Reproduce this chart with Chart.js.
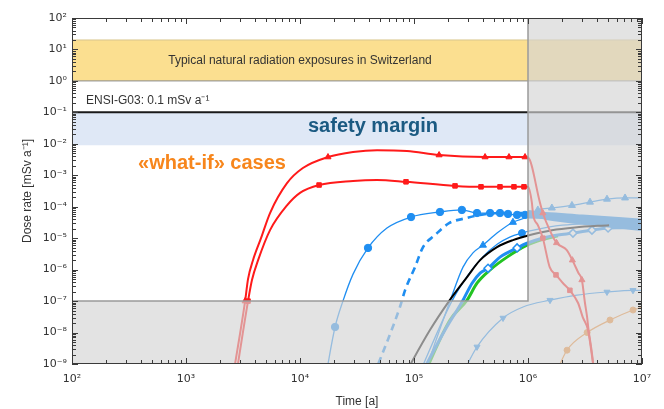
<!DOCTYPE html>
<html>
<head>
<meta charset="utf-8">
<script src="https://cdn.jsdelivr.net/npm/chart.js@4.4.0/dist/chart.umd.min.js"></script>
<style>
  html, body { margin: 0; padding: 0; background: #fff; }
  #wrap { width: 664px; height: 409px; }
</style>
</head>
<body>
<div id="wrap"><canvas id="doseChart"></canvas></div>
<script>
// Axis ranges and labelled decades
const timeRange = [1e2, 1e7];
const doseRange = [1e-9, 1e2];
const timeDecades = [1e2, 1e3, 1e4, 1e5, 1e6, 1e7];
const doseDecades = [1e-9, 1e-8, 1e-7, 1e-6, 1e-5, 1e-4, 1e-3, 1e-2, 1e-1, 1e0, 1e1, 1e2];

// Reference levels
const naturalBand = [1, 20];
const marginBand = [0.009, 0.1];
const ensiLimit = 0.1;
const cutoffTime = 1e6;
const cutoffDose = 1e-7;

// "what-if" cases (red)
const redTriT = [2610, 3300, 3500, 3870, 4550, 5460, 7690, 10600, 17600, 29200, 47400, 86800, 166000, 420000, 681000, 942000, 1000000,
  1270000, 1350000, 1550000, 1780000, 2190000, 2450000, 2770000, 2970000, 3160000, 3300000, 3380000, 3670000, 3800000];
const redTriD = [5e-10, 1e-7, 5e-7, 2.0e-6, 1e-5, 6.3e-5, 5.6e-4, 1.7e-3, 3.8e-3, 5.5e-3, 6.3e-3, 5.9e-3, 4.4e-3, 3.8e-3, 3.8e-3, 3.8e-3, 3.7e-3,
  1.4e-4, 6.3e-5, 1.8e-5, 7.1e-6, 4.2e-6, 2.0e-6, 7.8e-7, 4.7e-7, 8.7e-8, 3.1e-8, 1.4e-8, 1.7e-9, 4.5e-10];
const redSqT = [2770, 3500, 3790, 4290, 5460, 7690, 10000, 14700, 29200, 47400, 85100, 229000, 387000, 568000, 753000, 922000, 1000000,
  1080000, 1110000, 1220000, 1350000, 1550000, 1760000, 2030000, 2330000, 2750000, 3020000, 3360000, 3720000, 3870000];
const redSqD = [5e-10, 1e-7, 4.7e-7, 2.0e-6, 1.8e-5, 1.1e-4, 2.75e-4, 4.9e-4, 6.6e-4, 7.1e-4, 6.2e-4, 4.6e-4, 4.3e-4, 4.3e-4, 4.3e-4, 4.3e-4, 4.3e-4,
  1.4e-4, 5.5e-5, 2.6e-5, 1e-5, 1.2e-6, 6.8e-7, 3.7e-7, 2.2e-7, 8.7e-8, 3.1e-8, 1.2e-8, 1.07e-9, 4.5e-10];

// Blue cases
const bluCircT = [16900, 20300, 23800, 29200, 39500, 57900, 94200, 169000, 263000, 357000, 465000, 568000, 668000, 802000, 942000, 1000000, 3000000, 10000000];
const bluCircD = [4.5e-10, 1.5e-8, 1e-7, 7.2e-7, 4.9e-6, 2.1e-5, 4.7e-5, 6.8e-5, 7.9e-5, 6.3e-5, 6.3e-5, 6.3e-5, 5.9e-5, 5.5e-5, 5.5e-5, 5.5e-5, 4.4e-5, 3.2e-5];
const bluDashT = [44600, 75300, 83400, 102000, 120000, 153000, 203000, 292000, 380000, 568000, 1000000, 1500000, 4000000, 10000000];
const bluDashD = [4.5e-10, 6.5e-8, 2.2e-7, 1.2e-6, 5.2e-6, 1.26e-5, 3.0e-5, 4.4e-5, 5.5e-5, 6.3e-5, 6.3e-5, 4.6e-5, 3.0e-5, 2.1e-5];
const bluTriT = [122000, 207000, 269000, 329000, 403000, 535000, 738000, 980000, 1220000, 1620000, 2430000, 3500000, 4930000, 7100000, 10000000];
const bluTriD = [4.5e-10, 1e-7, 1.2e-6, 3.4e-6, 6.0e-6, 1.45e-5, 3.2e-5, 4.7e-5, 7.9e-5, 9.1e-5, 1.1e-4, 1.4e-4, 1.74e-4, 1.9e-4, 1.9e-4];
const bluCirc2T = [110000, 215000, 300000, 400000, 540000, 700000, 885000, 1040000, 2000000, 10000000];
const bluCirc2D = [4.5e-10, 1e-7, 7e-7, 2.5e-6, 6.5e-6, 1.1e-5, 1.45e-5, 1.7e-5, 2.6e-5, 3.2e-5];
const bluThickT = [115000, 187000, 269000, 323000, 380000, 446000, 568000, 802000, 980000, 1330000, 1830000, 2480000, 3640000, 5040000, 7100000, 10000000];
const bluThickD = [4.5e-10, 1.2e-8, 1.07e-7, 3.7e-7, 7.8e-7, 1.1e-6, 2.5e-6, 4.9e-6, 6.9e-6, 1e-5, 1.26e-5, 1.45e-5, 1.8e-5, 2.1e-5, 2.2e-5, 2.6e-5];
const bluLowT = [264000, 357000, 604000, 904000, 1560000, 2690000, 4930000, 8340000, 10000000];
const bluLowD = [4.5e-10, 3.5e-9, 2.9e-8, 6.5e-8, 1.07e-7, 1.55e-7, 1.95e-7, 2.2e-7, 2.2e-7];

// Reference case (black) and other cases
const blackT = [82600, 138000, 203000, 292000, 380000, 535000, 738000, 1040000, 1620000, 2580000, 5140000];
const blackD = [4.5e-10, 1.2e-8, 1e-7, 5.8e-7, 2.0e-6, 5.2e-6, 8.7e-6, 1.26e-5, 1.8e-5, 2.2e-5, 2.6e-5];
const greenT = [122000, 207000, 292000, 357000, 465000, 655000, 980000, 1330000, 1830000];
const greenD = [4.5e-10, 2.5e-8, 1.07e-7, 3.7e-7, 9.8e-7, 2.5e-6, 6.0e-6, 9e-6, 1.2e-5];
const orangeT = [1730000, 2200000, 3300000, 5240000, 8340000, 10000000];
const orangeD = [4.5e-10, 2.75e-9, 1.0e-8, 2.5e-8, 5.2e-8, 6.5e-8];

const RED = '#ff1a1a';
const BLUE = '#1f8ef1';

function pairs(ts, ds) {
  return ts.map((t, i) => ({ x: t, y: ds[i] }));
}

function sup(n) {
  const m = { '-': '\u207B', '0': '\u2070', '1': '\u00B9', '2': '\u00B2', '3': '\u00B3', '4': '\u2074',
    '5': '\u2075', '6': '\u2076', '7': '\u2077', '8': '\u2078', '9': '\u2079' };
  return String(n).split('').map(c => m[c]).join('');
}

function powLabel(v) {
  return '10' + sup(Math.round(Math.log10(v)));
}

// build a line dataset; markers only drawn at the listed indices
function curve(ts, ds, opts) {
  const marks = opts.markAt || [];
  return Object.assign({
    data: pairs(ts, ds),
    showLine: true,
    fill: false,
    cubicInterpolationMode: 'monotone',
    pointRadius: c => marks.includes(c.dataIndex) ? (opts.markSize || 3.5) : 0,
    pointBorderWidth: 1
  }, opts);
}

const wide = c => c.p0.parsed.x >= cutoffTime;

// Bands, limit line and annotations under the curves
const bandsPlugin = {
  id: 'bands',
  beforeDatasetsDraw(chart) {
    const { ctx, chartArea: a, scales: { x, y } } = chart;
    ctx.save();
    const nTop = y.getPixelForValue(naturalBand[1]);
    const nBot = y.getPixelForValue(naturalBand[0]);
    ctx.fillStyle = '#fbdf90';
    ctx.fillRect(a.left, nTop, a.width, nBot - nTop);
    ctx.strokeStyle = '#d9c68e';
    ctx.lineWidth = 1;
    ctx.beginPath(); ctx.moveTo(a.left, nTop); ctx.lineTo(a.right, nTop); ctx.stroke();
    ctx.strokeStyle = '#8a8a8a';
    ctx.beginPath(); ctx.moveTo(a.left, nBot); ctx.lineTo(a.right, nBot); ctx.stroke();

    const mTop = y.getPixelForValue(marginBand[1]);
    const mBot = y.getPixelForValue(marginBand[0]);
    ctx.fillStyle = '#dfe8f6';
    ctx.fillRect(a.left, mTop, a.width, mBot - mTop);

    const yl = y.getPixelForValue(ensiLimit);
    ctx.strokeStyle = '#1a1a1a';
    ctx.lineWidth = 2;
    ctx.beginPath(); ctx.moveTo(a.left, yl); ctx.lineTo(a.right, yl); ctx.stroke();

    ctx.textBaseline = 'middle';
    ctx.fillStyle = '#333';
    ctx.textAlign = 'center';
    ctx.font = '12px "Liberation Sans", Arial, sans-serif';
    ctx.fillText('Typical natural radiation exposures in Switzerland', x.getPixelForValue(1e4), (nTop + nBot) / 2);

    ctx.textAlign = 'left';
    ctx.fillText('ENSI-G03: 0.1 mSv a\u207B\u00B9', a.left + 14, yl - 12);

    ctx.textAlign = 'center';
    ctx.fillStyle = '#1b5a82';
    ctx.font = 'bold 20px "Liberation Sans", Arial, sans-serif';
    ctx.fillText('safety margin', 373, (mTop + mBot) / 2 - 2);

    ctx.fillStyle = '#f7861c';
    ctx.fillText('\u00ABwhat-if\u00BB cases', 212, 163);
    ctx.restore();
  }
};

// Grey veil over the region outside the assessment window
const veilPlugin = {
  id: 'veil',
  afterDatasetsDraw(chart) {
    const { ctx, chartArea: a, scales: { x, y } } = chart;
    const xc = x.getPixelForValue(cutoffTime);
    const yc = y.getPixelForValue(cutoffDose);
    ctx.save();
    ctx.fillStyle = 'rgba(212,212,212,0.66)';
    ctx.beginPath();
    ctx.moveTo(a.left, yc);
    ctx.lineTo(xc, yc);
    ctx.lineTo(xc, a.top);
    ctx.lineTo(a.right, a.top);
    ctx.lineTo(a.right, a.bottom);
    ctx.lineTo(a.left, a.bottom);
    ctx.closePath();
    ctx.fill();
    ctx.strokeStyle = '#9a9a9a';
    ctx.lineWidth = 1.5;
    ctx.beginPath();
    ctx.moveTo(a.left, yc);
    ctx.lineTo(xc, yc);
    ctx.lineTo(xc, a.top);
    ctx.stroke();
    ctx.restore();
  },
  afterDraw(chart) {
    // box with inward ticks on all four sides
    const { ctx, chartArea: a, scales: { x, y } } = chart;
    ctx.save();
    ctx.strokeStyle = '#3a3a3a';
    ctx.lineWidth = 1;
    ctx.strokeRect(a.left + 0.5, a.top + 0.5, a.width - 1, a.height - 1);
    ctx.beginPath();
    timeDecades.forEach((d, i) => {
      for (let k = 1; k < 10; k++) {
        if (k > 1 && i === timeDecades.length - 1) break;
        const px = Math.round(x.getPixelForValue(d * k)) + 0.5;
        const len = k === 1 ? 6 : 4;
        ctx.moveTo(px, a.bottom); ctx.lineTo(px, a.bottom - len);
        ctx.moveTo(px, a.top); ctx.lineTo(px, a.top + len);
      }
    });
    doseDecades.forEach((d, i) => {
      for (let k = 1; k < 10; k++) {
        if (k > 1 && i === doseDecades.length - 1) break;
        const py = Math.round(y.getPixelForValue(d * k)) + 0.5;
        const len = k === 1 ? 6 : 4;
        ctx.moveTo(a.left, py); ctx.lineTo(a.left + len, py);
        ctx.moveTo(a.right, py); ctx.lineTo(a.right - len, py);
      }
    });
    ctx.stroke();
    ctx.restore();
  }
};

const ctx = document.getElementById('doseChart');
const tickFont = { family: '"DejaVu Sans", sans-serif', size: 11 };
const titleFont = { family: '"Liberation Sans", Arial, sans-serif', size: 12 };

new Chart(ctx, {
  type: 'scatter',
  data: {
    datasets: [
      curve(redTriT, redTriD, { borderColor: RED, backgroundColor: RED, borderWidth: 2, pointStyle: 'triangle',
        markAt: [1, 8, 12, 13, 14, 15, 18, 20, 22, 24] }),
      curve(redSqT, redSqD, { borderColor: RED, backgroundColor: RED, borderWidth: 2, pointStyle: 'rect', markSize: 3.2,
        markAt: [1, 7, 10, 11, 12, 13, 14, 15, 20, 22, 24] }),
      curve(blackT, blackD, { borderColor: '#000', backgroundColor: '#000', borderWidth: 2 }),
      curve(bluCircT, bluCircD, { borderColor: BLUE, backgroundColor: BLUE, borderWidth: 1.3, pointStyle: 'circle', markSize: 3.7,
        markAt: [1, 4, 6, 7, 8, 9, 10, 11, 12, 13, 14],
        segment: { borderWidth: c => wide(c) ? 7 : undefined } }),
      curve(bluDashT, bluDashD, { borderColor: BLUE, borderWidth: 2.6, borderDash: [7, 5],
        segment: { borderWidth: c => wide(c) ? 6 : undefined, borderDash: c => wide(c) ? [] : undefined } }),
      curve(bluTriT, bluTriD, { borderColor: BLUE, backgroundColor: BLUE, borderWidth: 1.3, pointStyle: 'triangle', markSize: 4,
        markAt: [4, 6, 8, 9, 10, 11, 12, 13] }),
      curve(bluCirc2T, bluCirc2D, { borderColor: BLUE, backgroundColor: BLUE, borderWidth: 1.3, pointStyle: 'circle', markSize: 3.5,
        markAt: [6] }),
      curve(bluThickT, bluThickD, { borderColor: BLUE, backgroundColor: '#fff', borderWidth: 3, pointStyle: 'rectRot', markSize: 4,
        pointBorderColor: BLUE, pointBorderWidth: 1.5, markAt: [5, 7, 11, 12, 13] }),
      curve(greenT, greenD, { borderColor: '#22c322', borderWidth: 3 }),
      curve(bluLowT, bluLowD, { borderColor: BLUE, backgroundColor: BLUE, borderWidth: 1.2, pointStyle: 'triangle', pointRotation: 180,
        markSize: 3.5, markAt: [1, 2, 4, 6, 7] }),
      curve(orangeT, orangeD, { borderColor: '#f08a2c', backgroundColor: '#f08a2c', borderWidth: 1.2, pointStyle: 'circle',
        markSize: 3, markAt: [1, 2, 3, 4] })
    ]
  },
  options: {
    responsive: true,
    maintainAspectRatio: false,
    animation: false,
    events: [],
    layout: { padding: { top: 18, right: 22, left: 0, bottom: 0 } },
    plugins: { legend: { display: false }, tooltip: { enabled: false } },
    scales: {
      x: {
        type: 'logarithmic',
        min: timeRange[0],
        max: timeRange[1],
        afterBuildTicks: s => { s.ticks = timeDecades.map(v => ({ value: v })); },
        afterFit: s => { s.height = 45; },
        grid: { display: false, drawTicks: false },
        border: { display: false },
        ticks: { callback: v => powLabel(v), color: '#333', font: tickFont, padding: 9, maxRotation: 0, autoSkip: false },
        title: { display: true, text: 'Time [a]', color: '#333', font: titleFont, padding: { top: 0, bottom: 0 } }
      },
      y: {
        type: 'logarithmic',
        min: doseRange[0],
        max: doseRange[1],
        afterBuildTicks: s => { s.ticks = doseDecades.map(v => ({ value: v })); },
        afterFit: s => { s.width = 72; },
        grid: { display: false, drawTicks: false },
        border: { display: false },
        ticks: { callback: v => powLabel(v), color: '#333', font: tickFont, padding: 5, autoSkip: false },
        title: { display: true, text: 'Dose rate [mSv a\u207B\u00B9]', color: '#333', font: titleFont, padding: { top: 20, bottom: 0 } }
      }
    }
  },
  plugins: [bandsPlugin, veilPlugin]
});
</script>
</body>
</html>
